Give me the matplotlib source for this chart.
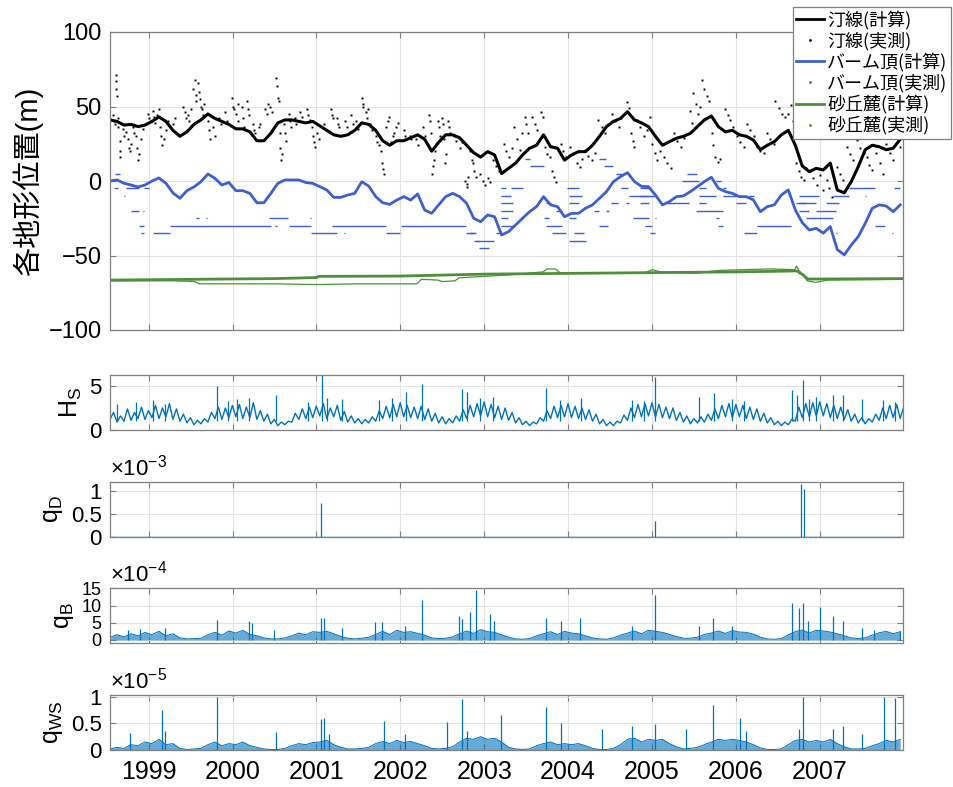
import numpy as np
import matplotlib
matplotlib.use('Agg')
import matplotlib.pyplot as plt
from matplotlib.lines import Line2D

plt.rcParams['font.family'] = ['Liberation Sans', 'Noto Sans CJK JP', 'DejaVu Sans']
plt.rcParams['mathtext.fontset'] = 'custom'
plt.rcParams['mathtext.rm'] = 'Liberation Sans'
plt.rcParams['mathtext.it'] = 'Liberation Sans:italic'

# ---- data (time in decimal years, monthly series start mid-July 1998) ----
T0 = 1998.54
years = list(range(1999, 2008))

# shoreline, computed (m), monthly
shore_calc = [41, 40, 37.5, 38, 36.5, 37.5,
              40, 43, 40, 34, 30, 33, 38, 41, 45, 42, 40, 38,
              35, 35, 33, 27, 27, 32, 39, 41, 41, 40, 39, 40,
              37, 34, 31, 30, 31, 34, 39, 38, 34, 27, 24, 27,
              27, 29, 31, 28, 20, 26, 31, 31, 29, 24, 19, 16,
              19.7, 17.5, 5, 8.5, 12, 17.5, 22, 24, 31, 23, 22, 14,
              17.5, 19.7, 19.7, 24, 30, 36.5, 40, 42, 46.5, 41, 39, 36.5,
              30, 24, 26.4, 28.7, 30, 32, 36.5, 41, 43.6, 36.5, 33, 34,
              31, 30, 27.5, 21, 24, 26.4, 31, 34, 24, 10, 6.3, 8.5,
              7.4, 12, -6, -8, -0.4, 9.6, 21, 24, 23, 21, 22, 28]

# berm top, computed (m), monthly
berm_calc = [0, 0.7, -1.5, -2.7, -4, -2.7,
             0, 2, -1.5, -8, -11.6, -6.5, -4, -0.5, 4.7, 1.8, -2.7, -1,
             -6.5, -6.5, -8.3, -14.6, -14.6, -8.3, -1.6, 0.7, 0.7, 0.7, -1, -1.6,
             -3.8, -6, -11, -11, -9.4, -8.3, -0.5, -3.4, -10.5, -14.6, -15.7, -12.8,
             -10.5, -12.8, -8.7, -19.5, -21.7, -16, -10.5, -8.3, -10.5, -15, -25, -27.3,
             -22.8, -24, -36.2, -34, -29.5, -25, -20.6, -17.2, -10.5, -16, -17.2, -24,
             -21.7, -21.7, -18.3, -16, -11.6, -7.1, -0.4, 2.9, 5.6, -0.4, -3.6, -3.8,
             -9.4, -16, -13.8, -10.5, -10, -7.1, -3.8, -0.4, 2.5, -4.9, -7.1, -8.3,
             -10.5, -10.5, -12.7, -20.6, -17.2, -16, -9.4, -6, -19.4, -28, -32.9, -31.8,
             -35, -30.6, -46, -49.6, -43, -37.3, -28.4, -18.3, -16, -16.8, -20.6, -16]

# dune toe, computed and observed (m)
dune_calc_t = [1998.54, 1999.5, 2000.5, 2001.0, 2001.03, 2002.0, 2003.0, 2004.0,
               2005.0, 2006.0, 2006.6, 2006.72, 2006.8, 2006.86, 2007.99]
dune_calc_v = [-66.5, -66, -65.5, -64.8, -64, -63.8, -62.5, -62,
               -61.5, -61, -60.5, -60.3, -63, -65.8, -65.5]
dune_obs_t = [1998.54, 1999.3, 1999.55, 1999.6, 2000.5, 2001.0, 2001.5, 2002.2, 2002.25,
              2002.45, 2002.5, 2002.65, 2002.7, 2003.0, 2003.3, 2003.5, 2003.7, 2003.75,
              2003.85, 2003.9, 2004.5, 2004.9, 2005.0, 2005.1, 2005.5, 2005.8, 2006.4,
              2006.7, 2006.72, 2006.75, 2006.85, 2006.95, 2007.1, 2007.99]
dune_obs_v = [-67, -67, -67.5, -69, -69, -69.5, -69, -69, -66,
              -66.5, -67.5, -67, -65, -64, -63, -62, -61, -59,
              -59, -61.5, -62, -62, -59.5, -61, -62, -60, -59,
              -59.5, -57, -60, -67, -68, -66.5, -66]

# shoreline, observed (year, m)
shore_obs = [
    (1998.58, 44), (1998.59, 40), (1998.60, 38), (1998.61, 71), (1998.612, 67), (1998.615, 62),
    (1998.62, 57), (1998.63, 42), (1998.64, 36), (1998.655, 27), (1998.66, 20), (1998.665, 16),
    (1998.69, 38), (1998.70, 35), (1998.71, 30), (1998.73, 33), (1998.75, 28), (1998.77, 22),
    (1998.78, 20), (1998.79, 25), (1998.81, 36), (1998.83, 32), (1998.85, 30), (1998.86, 22),
    (1998.87, 14), (1998.88, 18), (1998.91, 28), (1998.93, 35),
    (1998.99, 45), (1999.01, 42), (1999.03, 40), (1999.05, 47), (1999.07, 43), (1999.08, 39),
    (1999.10, 44), (1999.12, 48), (1999.14, 36), (1999.15, 30), (1999.16, 24), (1999.18, 28),
    (1999.21, 34), (1999.23, 40), (1999.29, 38), (1999.32, 42),
    (1999.41, 50), (1999.43, 46), (1999.44, 42), (1999.47, 44), (1999.48, 40), (1999.50, 48),
    (1999.53, 62), (1999.55, 68), (1999.56, 58), (1999.57, 54), (1999.59, 66), (1999.60, 60),
    (1999.61, 55), (1999.62, 50), (1999.64, 48), (1999.65, 44), (1999.66, 52), (1999.71, 40),
    (1999.72, 34), (1999.73, 28), (1999.77, 36), (1999.79, 30), (1999.84, 42), (1999.86, 38),
    (1999.91, 46), (1999.93, 40),
    (1999.99, 56), (2000.00, 50), (2000.02, 48), (2000.04, 45), (2000.06, 40), (2000.07, 52),
    (2000.11, 50), (2000.13, 42), (2000.14, 36), (2000.17, 54), (2000.18, 48), (2000.20, 44),
    (2000.24, 38), (2000.26, 34), (2000.27, 32), (2000.31, 36), (2000.33, 38), (2000.39, 48),
    (2000.41, 45), (2000.42, 52), (2000.45, 50), (2000.47, 46), (2000.52, 69), (2000.53, 64),
    (2000.54, 56), (2000.55, 54), (2000.56, 32), (2000.57, 22), (2000.58, 14), (2000.59, 18),
    (2000.61, 38), (2000.63, 32), (2000.64, 27), (2000.67, 45), (2000.69, 40), (2000.70, 36),
    (2000.74, 42), (2000.76, 38), (2000.81, 46), (2000.83, 43), (2000.89, 48), (2000.90, 44),
    (2000.92, 41), (2000.95, 36), (2000.96, 30), (2000.97, 26), (2000.98, 23),
    (2001.01, 32), (2001.03, 28), (2001.09, 38), (2001.11, 34), (2001.17, 48), (2001.19, 44),
    (2001.20, 42), (2001.24, 42), (2001.26, 38), (2001.27, 36), (2001.34, 40), (2001.36, 36),
    (2001.41, 44), (2001.43, 38), (2001.47, 40), (2001.49, 35), (2001.54, 56), (2001.55, 50),
    (2001.56, 52), (2001.59, 46), (2001.60, 42), (2001.62, 48), (2001.64, 38), (2001.66, 34),
    (2001.71, 30), (2001.72, 26), (2001.74, 24), (2001.77, 20), (2001.78, 12), (2001.79, 8),
    (2001.80, 5), (2001.83, 36), (2001.85, 40), (2001.86, 43), (2001.89, 26), (2001.91, 30),
    (2001.92, 32), (2001.95, 36), (2001.97, 39),
    (2002.04, 34), (2002.06, 30), (2002.11, 30), (2002.13, 28), (2002.19, 28), (2002.21, 24),
    (2002.27, 36), (2002.29, 30), (2002.34, 44), (2002.35, 40), (2002.36, 32), (2002.38, 5),
    (2002.39, 10), (2002.40, 14), (2002.41, 20), (2002.45, 40), (2002.46, 36), (2002.47, 30),
    (2002.50, 42), (2002.51, 38), (2002.52, 28), (2002.53, 12), (2002.54, 18), (2002.57, 40),
    (2002.58, 36), (2002.59, 32), (2002.64, 30), (2002.66, 27), (2002.71, 22), (2002.73, 26),
    (2002.77, 0), (2002.79, -2), (2002.80, -4), (2002.81, 3),
    (2002.83, 20), (2002.85, 14), (2002.87, 12), (2002.88, 7), (2002.90, 3), (2002.95, 5),
    (2002.98, 0), (2003.01, -3), (2003.04, 2), (2003.07, -1), (2003.11, 14), (2003.14, 10),
    (2003.17, 7), (2003.23, 25), (2003.26, 20), (2003.30, 16), (2003.33, 22), (2003.36, 36),
    (2003.39, 28), (2003.42, 21), (2003.45, 32), (2003.48, 43), (2003.50, 38), (2003.52, 32),
    (2003.57, 43), (2003.60, 38), (2003.63, 34), (2003.68, 46), (2003.70, 43), (2003.72, 23),
    (2003.75, 18), (2003.78, 16), (2003.81, 7), (2003.83, 3), (2003.86, -0.4), (2003.91, 25),
    (2003.94, 20), (2003.97, 16), (2004.02, 23), (2004.06, 18), (2004.10, 12), (2004.14, 9.6),
    (2004.16, 15), (2004.20, 21), (2004.24, 17), (2004.28, 14), (2004.32, 19), (2004.36, 41),
    (2004.40, 36), (2004.44, 32), (2004.48, 38), (2004.52, 45), (2004.56, 40), (2004.60, 36.5),
    (2004.63, 42), (2004.70, 53), (2004.72, 49), (2004.75, 32), (2004.77, 27), (2004.79, 23),
    (2004.82, 41), (2004.86, 36), (2004.90, 30), (2004.94, 34),
    (2004.97, 43), (2005.00, 25), (2005.03, 19), (2005.06, 14), (2005.10, 20), (2005.14, 16),
    (2005.18, 12), (2005.22, 8.5), (2005.26, 32), (2005.30, 27), (2005.34, 23), (2005.38, 29),
    (2005.45, 47), (2005.47, 39), (2005.49, 59), (2005.52, 52), (2005.55, 45), (2005.57, 50),
    (2005.60, 68), (2005.62, 62), (2005.65, 57), (2005.68, 54), (2005.71, 32), (2005.73, 24),
    (2005.75, 16), (2005.78, 13), (2005.81, 15), (2005.87, 48), (2005.90, 44), (2005.93, 41),
    (2005.97, 36), (2006.01, 30), (2006.05, 26), (2006.09, 23), (2006.13, 38), (2006.17, 34),
    (2006.21, 30), (2006.25, 23), (2006.29, 20), (2006.33, 18.6), (2006.37, 32), (2006.41, 28),
    (2006.45, 25), (2006.47, 54), (2006.51, 49), (2006.55, 45), (2006.58, 43), (2006.62, 45),
    (2006.65, 51), (2006.68, 40), (2006.72, 12), (2006.75, 7), (2006.78, 3), (2006.81, 1),
    (2006.84, 9), (2006.88, 7), (2006.92, 2), (2006.96, -3), (2007.00, 4), (2007.04, -6),
    (2007.08, 0.7), (2007.11, -5), (2007.14, -10.5), (2007.20, 9.6), (2007.24, 5), (2007.28, 0.7),
    (2007.32, 23), (2007.36, 18), (2007.40, 14), (2007.44, 27.5), (2007.48, 22), (2007.52, 18.6),
    (2007.56, 16), (2007.59, 11), (2007.62, 7.4), (2007.67, 18.6), (2007.71, 12), (2007.75, 5),
    (2007.79, 25), (2007.83, 19), (2007.87, 14), (2007.91, 34), (2007.93, 28), (2007.95, 23),
]

# berm top, observed: (start year, end year, level m)
berm_obs = [
    (1998.60, 1998.66, 5), (1998.59, 1998.64, -5), (1998.73, 1998.89, -5), (1998.95, 1999.01, -5),
    (1998.71, 1998.72, -10), (1998.79, 1998.89, -20), (1998.93, 1998.94, -20),
    (1999.57, 1999.60, -25), (1999.68, 1999.69, -25), (2000.43, 2000.66, -25), (2000.92, 2000.93, -25),
    (1998.89, 1998.95, -30), (1999.25, 2000.46, -30), (2000.51, 2000.53, -30), (2000.67, 2000.93, -30),
    (2001.19, 2001.83, -30), (2002.01, 2002.78, -30),
    (1998.91, 1998.95, -35), (1999.05, 1999.25, -35), (2000.94, 2001.25, -35), (2001.33, 2001.34, -35),
    (2001.83, 2001.99, -35), (2002.78, 2002.88, -35), (2002.90, 2002.94, -40),
    (2003.49, 2003.55, 15), (2004.37, 2004.45, 15), (2003.55, 2003.71, 10), (2004.43, 2004.53, 10),
    (2004.57, 2004.65, 5),
    (2003.20, 2003.26, -5), (2003.32, 2003.46, -5), (2003.99, 2004.13, -5), (2004.63, 2004.71, -5),
    (2003.20, 2003.32, -10), (2004.01, 2004.17, -10), (2004.73, 2004.96, -10),
    (2003.20, 2003.34, -15), (2003.73, 2003.79, -15), (2004.01, 2004.13, -15), (2004.51, 2004.59, -15),
    (2004.69, 2004.73, -15),
    (2003.20, 2003.34, -20), (2003.85, 2003.93, -20), (2004.31, 2004.37, -20), (2004.45, 2004.49, -20),
    (2003.20, 2003.28, -25), (2003.71, 2003.77, -25), (2004.01, 2004.09, -25), (2004.77, 2004.96, -25),
    (2003.20, 2003.34, -30), (2003.73, 2003.93, -30), (2004.37, 2004.47, -30),
    (2002.82, 2002.90, -35), (2003.14, 2003.20, -35), (2003.81, 2003.97, -35), (2004.07, 2004.19, -35),
    (2002.88, 2003.12, -40), (2004.01, 2004.21, -40), (2002.94, 2003.06, -45),
    (2005.42, 2005.54, 5), (2005.36, 2005.56, 0), (2005.76, 2005.82, 0),
    (2004.85, 2004.96, -5), (2005.56, 2005.64, -5), (2005.84, 2005.88, -5),
    (2004.85, 2005.04, -10), (2005.28, 2005.36, -10), (2005.56, 2005.76, -10), (2005.84, 2006.00, -10),
    (2006.155, 2006.215, -10),
    (2004.85, 2004.96, -15), (2005.16, 2005.44, -15), (2005.56, 2005.64, -15), (2006.00, 2006.115, -15),
    (2006.71, 2006.83, -15), (2005.52, 2005.84, -20), (2005.04, 2005.05, -25), (2005.76, 2005.80, -25),
    (2004.92, 2005.00, -30), (2005.78, 2005.84, -30), (2006.255, 2006.65, -30),
    (2004.98, 2005.04, -35), (2006.095, 2006.255, -35),
    (2007.35, 2007.66, -5), (2007.88, 2007.96, -5), (2006.75, 2006.99, -10), (2007.15, 2007.35, -10),
    (2007.54, 2007.55, -10), (2006.75, 2006.95, -15), (2007.07, 2007.23, -15),
    (2006.75, 2006.87, -20), (2006.95, 2007.19, -20), (2006.83, 2007.15, -25), (2007.66, 2007.78, -30),
    (2007.19, 2007.20, -35), (2007.86, 2007.87, -35),
]

# significant wave height (m), semi-monthly background
hs_half = [1.2, 2.0, 0.9, 1.6, 1.0, 2.4, 1.1, 2.0, 1.3, 2.6, 1.2, 2.2,
           1.4, 2.8, 1.3, 2.5, 1.5, 3.0, 1.2, 2.4, 1.0, 1.8, 0.8, 1.4, 0.6, 1.1, 0.7, 1.3, 0.9, 2.0, 1.3, 2.6, 1.2, 2.5, 1.4, 2.8,
           1.5, 2.9, 1.3, 2.6, 1.4, 3.1, 1.2, 2.2, 1.0, 1.8, 0.7, 1.2, 0.5, 0.9, 0.6, 1.0, 0.9, 1.9, 1.2, 2.4, 1.3, 2.6, 1.4, 2.7,
           1.6, 3.0, 1.3, 2.5, 1.5, 2.8, 1.1, 2.1, 0.9, 1.6, 0.8, 1.3, 0.7, 1.2, 0.8, 1.5, 1.0, 2.2, 1.3, 2.7, 1.4, 2.9, 1.5, 3.1,
           1.5, 2.8, 1.4, 2.6, 1.3, 2.7, 1.2, 2.4, 1.0, 1.9, 0.8, 1.5, 0.7, 1.3, 0.8, 1.6, 1.0, 2.3, 1.3, 2.8, 1.5, 3.0, 1.6, 3.2,
           1.5, 2.9, 1.4, 2.7, 1.2, 2.5, 1.1, 2.0, 0.8, 1.4, 0.6, 1.0, 0.5, 0.9, 0.7, 1.4, 1.0, 2.2, 1.3, 2.7, 1.4, 2.8, 1.5, 3.0,
           1.4, 2.7, 1.3, 2.5, 1.2, 2.3, 1.0, 1.8, 0.7, 1.2, 0.5, 0.9, 0.5, 1.0, 0.8, 1.7, 1.1, 2.5, 1.4, 2.9, 1.5, 3.0, 1.6, 3.1,
           1.5, 2.9, 1.4, 2.6, 1.3, 2.5, 1.1, 2.0, 0.9, 1.6, 0.7, 1.3, 0.8, 1.5, 0.9, 1.8, 1.1, 2.4, 1.3, 2.8, 1.5, 3.0, 1.4, 2.9,
           1.5, 2.8, 1.3, 2.6, 1.2, 2.4, 1.0, 1.9, 0.8, 1.4, 0.6, 1.0, 0.5, 0.9, 0.6, 1.2, 1.0, 2.6, 1.4, 3.0, 1.5, 3.1, 1.6, 3.2,
           1.6, 3.0, 1.4, 2.8, 1.3, 2.6, 1.2, 2.3, 1.0, 1.8, 0.8, 1.4, 0.7, 1.3, 0.9, 1.8, 1.1, 2.5, 1.3, 2.8, 1.4, 2.9, 1.3, 2.6]
# storm peaks of Hs (year, m)
hs_peaks = [(1998.62, 3.0), (1998.85, 3.2), (1999.05, 3.4), (1999.20, 3.0), (1999.82, 5.0), (1999.95, 3.3),
            (2000.05, 3.5), (2000.20, 3.6), (2000.52, 4.0), (2000.90, 3.2), (2001.07, 6.2), (2001.13, 3.6),
            (2001.30, 3.5), (2001.75, 3.4), (2001.90, 3.6), (2002.07, 4.3), (2002.26, 5.2), (2002.74, 4.7),
            (2002.80, 4.3), (2002.95, 3.6), (2003.10, 3.8), (2003.73, 4.8), (2003.90, 3.4), (2004.15, 3.6),
            (2004.76, 3.4), (2004.90, 3.3), (2005.04, 6.0), (2005.56, 3.8), (2005.74, 4.2), (2005.95, 3.5),
            (2006.10, 3.3), (2006.67, 4.5), (2006.73, 4.0), (2006.80, 5.7), (2006.87, 3.5), (2006.95, 3.8),
            (2007.15, 4.0), (2007.27, 4.0), (2007.50, 3.5), (2007.75, 3.4), (2007.90, 3.2)]

# dune erosion rate qD (x1e-3)
qd_peaks = [(2001.06, 0.75), (2005.04, 0.35), (2006.77, 1.15), (2006.81, 1.05)]

# qB (x1e-4), monthly background and peaks
qb_month = [0.8, 1.5, 0.9, 1.8, 1.2, 2.2,
            1.5, 2.5, 1.2, 1.8, 0.6, 0.3, 0.4, 0.5, 1.5, 2.2, 1.4, 2.6,
            2.0, 2.8, 1.6, 1.2, 0.6, 0.3, 0.3, 0.6, 1.2, 2.0, 1.5, 2.4,
            2.2, 2.5, 1.8, 1.0, 0.5, 0.3, 0.5, 0.8, 1.6, 2.5, 1.6, 2.8,
            2.2, 2.4, 1.9, 1.4, 0.6, 0.4, 0.5, 0.9, 1.8, 2.6, 1.9, 3.0,
            2.4, 2.2, 1.5, 0.8, 0.3, 0.2, 0.4, 1.2, 1.8, 2.4, 1.6, 2.5,
            2.0, 1.8, 1.2, 0.6, 0.3, 0.2, 0.6, 1.4, 2.0, 2.6, 1.8, 2.8,
            2.5, 2.2, 1.6, 1.0, 0.5, 0.5, 0.8, 1.6, 2.0, 2.6, 1.9, 2.7,
            2.3, 2.2, 1.7, 0.8, 0.3, 0.2, 0.4, 1.5, 2.4, 2.9, 2.0, 2.8,
            2.6, 2.3, 1.8, 1.2, 0.6, 0.4, 0.6, 1.4, 2.1, 2.5, 1.8, 2.4]
qb_peaks = [(1998.75, 3.0), (1998.90, 3.2), (1999.20, 3.5), (1999.82, 5.8), (2000.20, 5.6), (2000.23, 5.0),
            (2000.50, 3.0), (2001.05, 6.3), (2001.09, 6.5), (2001.30, 3.5), (2001.70, 5.3), (2001.78, 5.3),
            (2002.05, 4.0), (2002.26, 11.6), (2002.70, 7.0), (2002.74, 6.0), (2002.83, 8.0), (2002.90, 14.5),
            (2003.07, 7.5), (2003.12, 5.5), (2003.73, 6.3), (2003.92, 5.5), (2004.14, 6.5), (2004.76, 4.0),
            (2005.03, 13.0), (2005.56, 4.0), (2005.73, 6.3), (2005.95, 4.0), (2006.67, 10.8), (2006.75, 9.4),
            (2006.80, 10.8), (2006.86, 5.5), (2007.00, 9.5), (2007.15, 7.0), (2007.27, 5.5), (2007.50, 3.5),
            (2007.65, 3.0), (2007.95, 2.5)]

# qWS (x1e-5), monthly background and peaks
qws_month = [0.02, 0.05, 0.03, 0.10, 0.08, 0.15,
             0.12, 0.20, 0.10, 0.12, 0.03, 0.01, 0.02, 0.03, 0.10, 0.15, 0.08, 0.12,
             0.10, 0.15, 0.08, 0.05, 0.02, 0.01, 0.01, 0.03, 0.08, 0.12, 0.10, 0.14,
             0.15, 0.18, 0.10, 0.05, 0.02, 0.02, 0.03, 0.05, 0.12, 0.16, 0.12, 0.18,
             0.14, 0.16, 0.12, 0.08, 0.03, 0.02, 0.03, 0.06, 0.15, 0.22, 0.20, 0.25,
             0.20, 0.22, 0.15, 0.05, 0.02, 0.01, 0.02, 0.08, 0.12, 0.15, 0.10, 0.12,
             0.10, 0.12, 0.08, 0.03, 0.01, 0.01, 0.03, 0.10, 0.20, 0.22, 0.15, 0.20,
             0.18, 0.20, 0.12, 0.06, 0.02, 0.03, 0.05, 0.10, 0.15, 0.20, 0.18, 0.20,
             0.18, 0.15, 0.10, 0.04, 0.01, 0.01, 0.02, 0.10, 0.18, 0.20, 0.15, 0.18,
             0.15, 0.20, 0.12, 0.06, 0.02, 0.02, 0.03, 0.08, 0.12, 0.18, 0.15, 0.20]
qws_peaks = [(1998.78, 0.32), (1999.16, 0.75), (1999.20, 0.35), (1999.82, 1.0), (2000.52, 0.33),
             (2001.05, 0.58), (2001.09, 0.60), (2001.15, 0.30), (2001.80, 0.55), (2002.05, 0.30),
             (2002.55, 0.52), (2002.74, 0.95), (2002.80, 0.35), (2003.20, 0.65), (2003.73, 0.81),
             (2003.92, 0.50), (2004.40, 0.40), (2004.76, 0.45), (2005.04, 0.48), (2005.40, 0.40),
             (2005.73, 0.85), (2006.05, 0.60), (2006.12, 0.35), (2006.75, 0.40), (2006.80, 1.0),
             (2007.15, 0.40), (2007.27, 0.45), (2007.50, 0.30), (2007.76, 1.0), (2007.90, 0.97)]

BLACK = '#000000'
BLUE = '#3e5fd0'
GREEN = '#4f8f3a'
QCOL = '#0072BD'
SPINE = '#7f7f7f'
GRID = '#e3e3e3'

t_month = T0 + np.arange(len(shore_calc)) / 12
t_half = T0 + np.arange(len(hs_half)) / 24

fig = plt.figure(figsize=(9.54, 7.87), dpi=100)
W, H = 954, 787


def add_ax(top, bottom):
    return fig.add_axes([110 / W, 1 - bottom / H, 793 / W, (bottom - top) / H])


def style(ax, ysize=16):
    ax.set_xlim(1998.54, 2007.99)
    ax.set_xticks(years)
    ax.grid(True, color=GRID, lw=0.8)
    ax.set_axisbelow(True)
    for s in ax.spines.values():
        s.set_color(SPINE)
        s.set_linewidth(0.9)
    ax.tick_params(direction='in', top=True, right=True, length=4, width=0.8,
                   color=SPINE, labelsize=ysize, pad=6)
    ax.tick_params(axis='x', labelbottom=False)


# ---- top panel ----
ax0 = add_ax(32, 330)
style(ax0, 17)
ax0.plot(t_month, shore_calc, color=BLACK, lw=2.2)
so_t, so_v = zip(*shore_obs)
ax0.plot(so_t, so_v, ls='none', marker='s', ms=1.4, color=BLACK, mew=0)
ax0.plot(t_month, berm_calc, color=BLUE, lw=2.0)
b_s, b_e, b_l = zip(*berm_obs)
ax0.hlines(b_l, b_s, b_e, color=BLUE, lw=1.0)
ax0.plot(dune_obs_t, dune_obs_v, color=GREEN, lw=0.9)
ax0.plot(dune_calc_t, dune_calc_v, color=GREEN, lw=2.0)
ax0.set_ylim(-100, 100)
ax0.set_yticks([-100, -50, 0, 50, 100])
ax0.set_ylabel('各地形位置(m)', fontsize=21, labelpad=4)

handles = [Line2D([], [], color=BLACK, lw=2),
           Line2D([], [], color=BLACK, ls='none', marker='.', ms=2),
           Line2D([], [], color=BLUE, lw=2),
           Line2D([], [], color=BLUE, ls='none', marker='.', ms=2),
           Line2D([], [], color=GREEN, lw=2),
           Line2D([], [], color=GREEN, ls='none', marker='.', ms=2)]
labels = ['汀線(計算)', '汀線(実測)', 'バーム頂(計算)', 'バーム頂(実測)', '砂丘麓(計算)', '砂丘麓(実測)']
leg = fig.legend(handles, labels, loc='upper right', bbox_to_anchor=(951 / W, 1 - 7 / H),
                 fontsize=13, frameon=True, fancybox=False, edgecolor=SPINE, framealpha=1,
                 borderpad=0.2, labelspacing=0.13, handlelength=1.5, handletextpad=0.2,
                 borderaxespad=0)
leg.get_frame().set_linewidth(0.9)
for txt in leg.get_texts():
    txt.set_fontfamily(['Noto Sans CJK JP', 'DejaVu Sans'])

# ---- Hs ----
ax1 = add_ax(375, 430)
style(ax1)
ax1.plot(t_half, hs_half, color=QCOL, lw=1.0)
hp_t, hp_v = zip(*hs_peaks)
ax1.vlines(hp_t, 1.0, hp_v, color=QCOL, lw=0.9)
ax1.set_ylim(0, 6.25)
ax1.set_yticks([0, 5])
ax1.set_ylabel(r'$\mathrm{H_S}$', fontsize=18, labelpad=4)

# ---- qD ----
ax2 = add_ax(481.7, 536.7)
style(ax2)
ax2.axhline(0, color=QCOL, lw=1.0)
qd_t, qd_v = zip(*qd_peaks)
ax2.vlines(qd_t, 0, qd_v, color=QCOL, lw=0.9)
ax2.set_ylim(0, 1.21)
ax2.set_yticks([0, 0.5, 1])
ax2.set_yticklabels(['0', '0.5', '1'])
ax2.set_ylabel(r'$\mathrm{q_D}$', fontsize=18, labelpad=4)
ax2.text(0, 1.03, r'$\times 10^{-3}$', transform=ax2.transAxes, fontsize=16, ha='left', va='bottom')

# ---- qB ----
ax3 = add_ax(588.3, 642.7)
style(ax3, 13)
ax3.fill_between(t_month, 0, qb_month, color=QCOL, alpha=0.6, lw=0)
ax3.plot(t_month, qb_month, color=QCOL, lw=0.7)
qb_t, qb_v = zip(*qb_peaks)
ax3.vlines(qb_t, 0, qb_v, color=QCOL, lw=0.9)
ax3.set_ylim(-0.8, 15)
ax3.set_yticks([0, 5, 10, 15])
ax3.set_ylabel(r'$\mathrm{q_B}$', fontsize=18, labelpad=4)
ax3.text(0, 1.03, r'$\times 10^{-4}$', transform=ax3.transAxes, fontsize=16, ha='left', va='bottom')

# ---- qWS ----
ax4 = add_ax(695, 750)
style(ax4)
ax4.fill_between(t_month, 0, qws_month, color=QCOL, alpha=0.6, lw=0)
ax4.plot(t_month, qws_month, color=QCOL, lw=0.7)
qw_t, qw_v = zip(*qws_peaks)
ax4.vlines(qw_t, 0, qw_v, color=QCOL, lw=0.9)
ax4.set_ylim(0, 1.03)
ax4.set_yticks([0, 0.5, 1])
ax4.set_yticklabels(['0', '0.5', '1'])
ax4.set_ylabel(r'$\mathrm{q_{WS}}$', fontsize=18, labelpad=4)
ax4.text(0, 1.03, r'$\times 10^{-5}$', transform=ax4.transAxes, fontsize=16, ha='left', va='bottom')
ax4.tick_params(axis='x', labelbottom=True, labelsize=18, pad=7)

fig.savefig('out.png', dpi=100)
